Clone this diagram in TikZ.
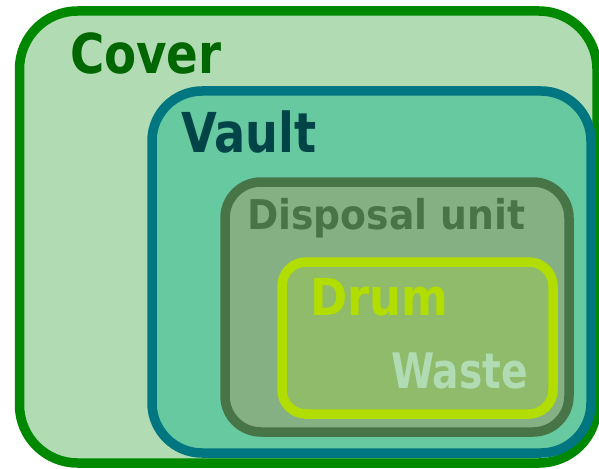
\documentclass[tikz,border=0pt]{standalone}
\usepackage{graphicx}
\usepackage{fontspec}
\setmainfont{DejaVu Sans}
\definecolor{coverfill}{RGB}{177,220,179}
\definecolor{coverline}{RGB}{0,136,0}
\definecolor{covertext}{RGB}{0,102,0}
\definecolor{vaultfill}{RGB}{102,201,159}
\definecolor{vaultline}{RGB}{0,119,128}
\definecolor{vaulttext}{RGB}{0,68,72}
\definecolor{dispfill}{RGB}{133,176,132}
\definecolor{displine}{RGB}{72,117,72}
\definecolor{drumfill}{RGB}{143,187,107}
\definecolor{drumline}{RGB}{178,221,0}
\definecolor{wastetext}{RGB}{177,220,179}
\tikzset{
  layer/.style={line width=9.5pt},
  lbl/.style={anchor=base west, inner sep=0pt, outer sep=0pt},
}
\begin{document}
\begin{tikzpicture}[x=1pt,y=-1pt]
\useasboundingbox (0,0) rectangle (599,468);
\draw[layer, draw=coverline, fill=coverfill, rounded corners=58pt] (19.5,11) rectangle (597,463);
\draw[layer, draw=vaultline, fill=vaultfill, rounded corners=50pt] (152,91) rectangle (591,453);
\draw[layer, draw=displine, fill=dispfill, rounded corners=36pt] (225,182) rectangle (569,432);
\draw[layer, draw=drumline, fill=drumfill, rounded corners=24pt] (282,262) rectangle (553,414);
\node[lbl, text=covertext, font=\fontsize{55}{60}\selectfont\bfseries] (cover) at (70,74) {\scalebox{0.85}[1]{Cover}};
\node[lbl, text=vaulttext, font=\fontsize{55}{60}\selectfont\bfseries] (vault) at (181,152) {\scalebox{0.84}[1]{Vault}};
\node[lbl, text=displine, font=\fontsize{41}{48}\selectfont\bfseries] (disp) at (247,229) {\scalebox{0.92}[1]{Disposal unit}};
\node[lbl, text=drumline, font=\fontsize{51}{56}\selectfont\bfseries] (drum) at (310,315) {\scalebox{0.88}[1]{Drum}};
\node[lbl, text=wastetext, font=\fontsize{49}{52}\selectfont\bfseries] (waste) at (391,388) {\scalebox{0.80}[1]{Waste}};
\end{tikzpicture}
\end{document}
